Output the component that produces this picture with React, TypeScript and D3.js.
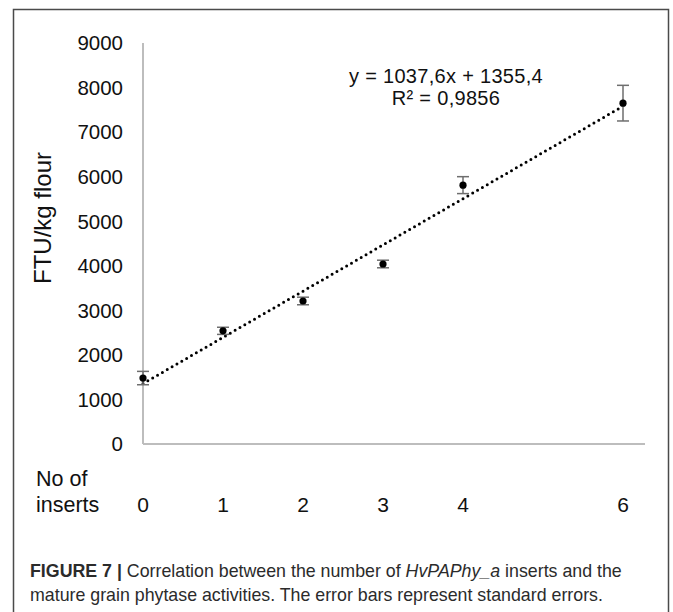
import React, { useRef, useEffect } from 'react';
import * as d3 from 'd3';

// number of inserts and phytase activity (FTU/kg flour) with standard errors
const inserts = [0, 1, 2, 3, 4, 6];
const activity = [1480, 2540, 3210, 4040, 5810, 7650];
const stdErr = [150, 80, 85, 85, 190, 400];
const yTicks = [0, 1000, 2000, 3000, 4000, 5000, 6000, 7000, 8000, 9000];

// linear trend line from the figure
const slope = 1037.6;
const intercept = 1355.4;
const equation = 'y = 1037,6x + 1355,4';
const rSquared = 'R² = 0,9856';

const FONT = '"Liberation Sans", Arial, Helvetica, sans-serif';

const Chart: React.FC = () => {
  const svgRef = useRef<SVGSVGElement>(null);

  useEffect(() => {
    if (!svgRef.current) return;
    const width = 673;
    const height = 612;

    const svg = d3.select(svgRef.current)
      .attr('width', width)
      .attr('height', height)
      .attr('viewBox', [0, 0, width, height])
      .style('font-family', FONT);

    svg.selectAll('*').remove();

    const x = d3.scaleLinear().domain([0, 6]).range([143, 623]);
    const y = d3.scaleLinear().domain([0, 9000]).range([444, 43]);

    // frame around figure
    svg.append('rect')
      .attr('x', 13.5)
      .attr('y', 9.5)
      .attr('width', 655)
      .attr('height', 700)
      .attr('fill', 'none')
      .attr('stroke', '#4a4a4a')
      .attr('stroke-width', 1.5);

    // axes (no ticks)
    const axes = svg.append('g')
      .attr('stroke', '#bdbdbd')
      .attr('stroke-width', 2);
    axes.append('line')
      .attr('x1', x(0)).attr('x2', x(0))
      .attr('y1', y(9000)).attr('y2', y(0));
    axes.append('line')
      .attr('x1', x(0)).attr('x2', x.range()[1] + 22)
      .attr('y1', y(0)).attr('y2', y(0));

    // y tick labels
    svg.append('g')
      .selectAll('text')
      .data(yTicks)
      .join('text')
      .attr('x', x(0) - 20)
      .attr('y', d => y(d))
      .attr('dy', '0.36em')
      .attr('text-anchor', 'end')
      .attr('font-size', 20.5)
      .attr('fill', '#111')
      .text(d => d);

    // y axis title
    svg.append('text')
      .attr('transform', `translate(51,${218}) rotate(-90)`)
      .attr('text-anchor', 'middle')
      .attr('font-size', 24)
      .attr('fill', '#111')
      .text('FTU/kg flour');

    // x labels row
    svg.append('text')
      .attr('x', 36)
      .attr('y', 486)
      .attr('font-size', 21.5)
      .attr('fill', '#111')
      .text('No of');
    svg.append('text')
      .attr('x', 36)
      .attr('y', 512)
      .attr('font-size', 21.5)
      .attr('fill', '#111')
      .text('inserts');
    svg.append('g')
      .selectAll('text')
      .data(inserts)
      .join('text')
      .attr('x', d => x(d))
      .attr('y', 512)
      .attr('text-anchor', 'middle')
      .attr('font-size', 21)
      .attr('fill', '#111')
      .text(d => d);

    // dotted trend line
    const line = d3.line<number>()
      .x(d => x(d))
      .y(d => y(slope * d + intercept));
    svg.append('path')
      .datum([0, 6])
      .attr('d', line)
      .attr('fill', 'none')
      .attr('stroke', '#000')
      .attr('stroke-width', 3)
      .attr('stroke-linecap', 'round')
      .attr('stroke-dasharray', '0 5.6');

    // error bars
    const err = svg.append('g')
      .attr('stroke', '#6e6e6e')
      .attr('stroke-width', 1.5);
    inserts.forEach((v, i) => {
      const cx = x(v);
      const top = y(activity[i] + stdErr[i]);
      const bot = y(activity[i] - stdErr[i]);
      err.append('line').attr('x1', cx).attr('x2', cx).attr('y1', top).attr('y2', bot);
      err.append('line').attr('x1', cx - 6).attr('x2', cx + 6).attr('y1', top).attr('y2', top);
      err.append('line').attr('x1', cx - 6).attr('x2', cx + 6).attr('y1', bot).attr('y2', bot);
    });

    // points
    svg.append('g')
      .selectAll('circle')
      .data(inserts)
      .join('circle')
      .attr('cx', d => x(d))
      .attr('cy', (d, i) => y(activity[i]))
      .attr('r', 3.6)
      .attr('fill', '#000');

    // equation
    const eq = svg.append('g')
      .attr('text-anchor', 'middle')
      .attr('font-size', 20)
      .attr('letter-spacing', 0.3)
      .attr('fill', '#111');
    eq.append('text').attr('x', 446).attr('y', 83).text(equation);
    eq.append('text').attr('x', 446).attr('y', 105).text(rSquared);

    // caption
    const cap = svg.append('g')
      .attr('font-size', 17.8)
      .attr('fill', '#2b2b2b');
    const l1 = cap.append('text').attr('x', 30).attr('y', 577);
    l1.append('tspan').attr('font-weight', 'bold').text('FIGURE 7 | ');
    l1.append('tspan').text('Correlation between the number of ');
    l1.append('tspan').attr('font-style', 'italic').text('HvPAPhy_a');
    l1.append('tspan').text(' inserts and the');
    cap.append('text')
      .attr('x', 30)
      .attr('y', 601)
      .text('mature grain phytase activities. The error bars represent standard errors.');
  }, []);

  return <svg ref={svgRef} style={{ position: 'absolute', left: 0, top: 0 }} />;
};

export default function App() {
  return <Chart />;
}
